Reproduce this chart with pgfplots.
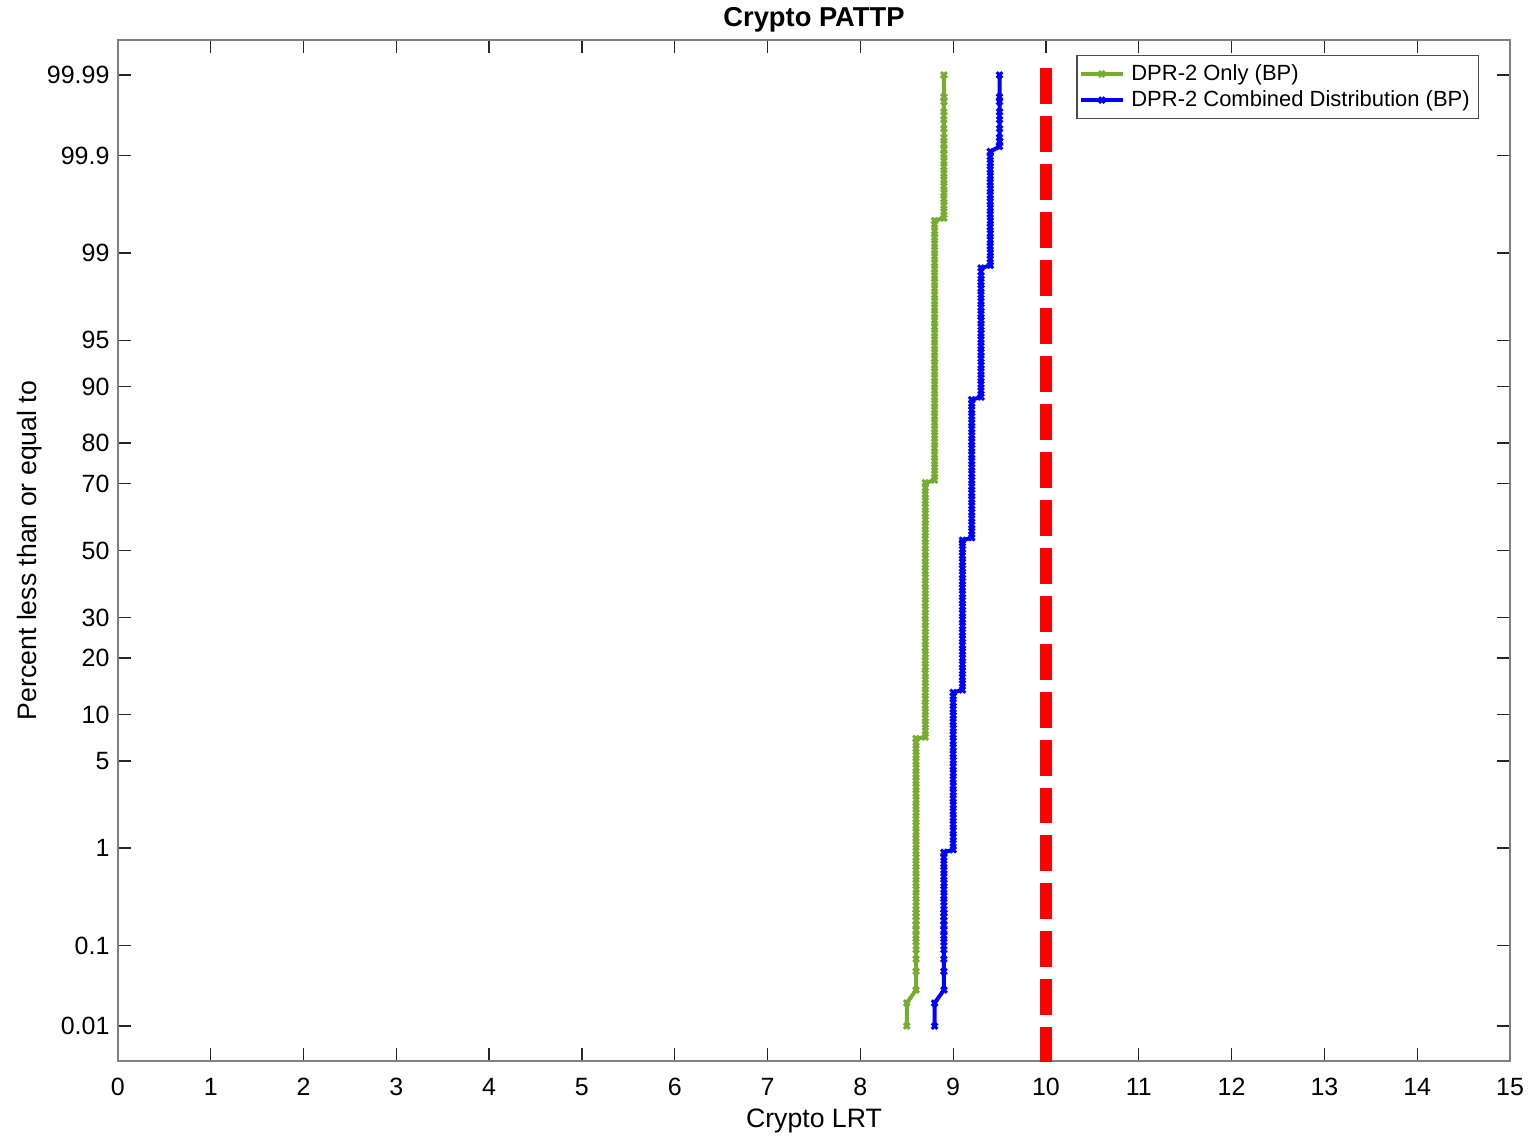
\documentclass[border=0pt]{standalone}
\usepackage{pgfplots}
\pgfplotsset{compat=1.18}
\usepackage{fontspec}
\setmainfont{Liberation Sans}

\definecolor{mgreen}{rgb}{0.466,0.674,0.188}

\begin{document}
\fontsize{7pt}{8.4pt}\selectfont
\begin{tikzpicture}
  \begin{axis}[
    scale only axis,
    width=418pt, height=306.6pt,
    xmin=0, xmax=15,
    ymin=-3.993, ymax=3.993,
    xtick={0,1,...,15},
    ytick={-3.719,-3.090,-2.326,-1.645,-1.2816,-0.8416,-0.5244,0,0.5244,0.8416,1.2816,1.645,2.326,3.090,3.719},
    yticklabels={0.01,0.1,1,5,10,20,30,50,70,80,90,95,99,99.9,99.99},
    /pgf/number format/assume math mode=true,
    tick align=inside,
    major tick length=4pt,
    axis line style={black!50},
    tick style={black!85, line width=0.4pt},
    ticklabel style={font=\fontsize{7.5pt}{9pt}\selectfont},
    xticklabel style={yshift=-2.7pt},
    title={\textbf{Crypto PATTP}},
    title style={font=\fontsize{8.2pt}{9.8pt}\selectfont, yshift=-6.2pt},
    xlabel={Crypto LRT},
    ylabel={Percent less than or equal to},
    label style={font=\fontsize{8pt}{9.6pt}\selectfont},
    xlabel style={yshift=1pt},
    ylabel style={yshift=-3.5pt},
    legend image code/.code={%
      \draw[mark repeat=2, mark phase=2] plot coordinates {(0cm,0cm) (0.22cm,0cm) (0.44cm,0cm)};},
    legend style={at={(1,1)}, anchor=north east, xshift=-9.3pt, yshift=-4.5pt,
      draw=black!70, font=\fontsize{6.6pt}{8pt}\selectfont,
      inner sep=0.6pt, row sep=-2pt},
    legend cell align=left,
  ]
    % DPR-2 Only (BP)
    \addplot[color=mgreen, line width=1.2pt, mark=x, mark size=1.2pt, mark options={solid, line width=0.9pt}]
    coordinates {
      (8.5,-3.719) (8.5,-3.539)
      (8.6,-3.437) (8.6,-3.291) (8.6,-3.195) (8.6,-3.121) (8.6,-3.062) (8.6,-3.011)
      (8.6,-2.968) (8.6,-2.929) (8.6,-2.894) (8.6,-2.863) (8.6,-2.834) (8.6,-2.807)
      (8.6,-2.75) (8.6,-2.70) (8.6,-2.65) (8.6,-2.60) (8.6,-2.55) (8.6,-2.50)
      (8.6,-2.45) (8.6,-2.40) (8.6,-2.35) (8.6,-2.30) (8.6,-2.25) (8.6,-2.20)
      (8.6,-2.15) (8.6,-2.10) (8.6,-2.05) (8.6,-2.00) (8.6,-1.95) (8.6,-1.90)
      (8.6,-1.85) (8.6,-1.80) (8.6,-1.75) (8.6,-1.70) (8.6,-1.65) (8.6,-1.60)
      (8.6,-1.55) (8.6,-1.50) (8.6,-1.47)
      (8.7,-1.46) (8.7,-1.41) (8.7,-1.36) (8.7,-1.31) (8.7,-1.26) (8.7,-1.21)
      (8.7,-1.16) (8.7,-1.11) (8.7,-1.06) (8.7,-1.01) (8.7,-0.96) (8.7,-0.91)
      (8.7,-0.86) (8.7,-0.81) (8.7,-0.76) (8.7,-0.71) (8.7,-0.66) (8.7,-0.61)
      (8.7,-0.56) (8.7,-0.51) (8.7,-0.46) (8.7,-0.41) (8.7,-0.36) (8.7,-0.31)
      (8.7,-0.26) (8.7,-0.21) (8.7,-0.16) (8.7,-0.11) (8.7,-0.06) (8.7,-0.01)
      (8.7,0.04) (8.7,0.09) (8.7,0.14) (8.7,0.19) (8.7,0.24) (8.7,0.29)
      (8.7,0.34) (8.7,0.39) (8.7,0.44) (8.7,0.49) (8.7,0.53)
      (8.8,0.55) (8.8,0.60) (8.8,0.65) (8.8,0.70) (8.8,0.75) (8.8,0.80)
      (8.8,0.85) (8.8,0.90) (8.8,0.95) (8.8,1.00) (8.8,1.05) (8.8,1.10)
      (8.8,1.15) (8.8,1.20) (8.8,1.25) (8.8,1.30) (8.8,1.35) (8.8,1.40)
      (8.8,1.45) (8.8,1.50) (8.8,1.55) (8.8,1.60) (8.8,1.65) (8.8,1.70)
      (8.8,1.75) (8.8,1.80) (8.8,1.85) (8.8,1.90) (8.8,1.95) (8.8,2.00)
      (8.8,2.05) (8.8,2.10) (8.8,2.15) (8.8,2.20) (8.8,2.25) (8.8,2.30)
      (8.8,2.35) (8.8,2.40) (8.8,2.45) (8.8,2.50) (8.8,2.55) (8.8,2.58)
      (8.9,2.60) (8.9,2.65) (8.9,2.70) (8.9,2.75) (8.9,2.80) (8.9,2.85)
      (8.9,2.90) (8.9,2.95) (8.9,3.00) (8.9,3.05) (8.9,3.10) (8.9,3.14)
      (8.9,3.18) (8.9,3.23) (8.9,3.30) (8.9,3.37) (8.9,3.43) (8.9,3.51)
      (8.9,3.547) (8.9,3.719)
    };
    \addlegendentry{DPR-2 Only (BP)}

    % DPR-2 Combined Distribution (BP)
    \addplot[color=blue, line width=1.2pt, mark=x, mark size=1.2pt, mark options={solid, line width=0.9pt}]
    coordinates {
      (8.8,-3.719) (8.8,-3.539)
      (8.9,-3.437) (8.9,-3.291) (8.9,-3.195) (8.9,-3.121) (8.9,-3.062) (8.9,-3.011)
      (8.9,-2.968) (8.9,-2.929) (8.9,-2.894) (8.9,-2.863) (8.9,-2.834) (8.9,-2.807)
      (8.9,-2.75) (8.9,-2.70) (8.9,-2.65) (8.9,-2.60) (8.9,-2.55) (8.9,-2.50)
      (8.9,-2.45) (8.9,-2.40) (8.9,-2.36)
      (9.0,-2.34) (9.0,-2.29) (9.0,-2.24) (9.0,-2.19) (9.0,-2.14) (9.0,-2.09)
      (9.0,-2.04) (9.0,-1.99) (9.0,-1.94) (9.0,-1.89) (9.0,-1.84) (9.0,-1.79)
      (9.0,-1.74) (9.0,-1.69) (9.0,-1.64) (9.0,-1.59) (9.0,-1.54) (9.0,-1.49)
      (9.0,-1.44) (9.0,-1.39) (9.0,-1.34) (9.0,-1.29) (9.0,-1.24) (9.0,-1.19)
      (9.0,-1.14) (9.0,-1.11)
      (9.1,-1.09) (9.1,-1.04) (9.1,-0.99) (9.1,-0.94) (9.1,-0.89) (9.1,-0.84)
      (9.1,-0.79) (9.1,-0.74) (9.1,-0.69) (9.1,-0.64) (9.1,-0.59) (9.1,-0.54)
      (9.1,-0.49) (9.1,-0.44) (9.1,-0.39) (9.1,-0.34) (9.1,-0.29) (9.1,-0.24)
      (9.1,-0.19) (9.1,-0.14) (9.1,-0.09) (9.1,-0.04) (9.1,0.01) (9.1,0.06)
      (9.1,0.08)
      (9.2,0.10) (9.2,0.15) (9.2,0.20) (9.2,0.25) (9.2,0.30) (9.2,0.35)
      (9.2,0.40) (9.2,0.45) (9.2,0.50) (9.2,0.55) (9.2,0.60) (9.2,0.65)
      (9.2,0.70) (9.2,0.75) (9.2,0.80) (9.2,0.85) (9.2,0.90) (9.2,0.95)
      (9.2,1.00) (9.2,1.05) (9.2,1.10) (9.2,1.15) (9.2,1.18)
      (9.3,1.20) (9.3,1.25) (9.3,1.30) (9.3,1.35) (9.3,1.40) (9.3,1.45)
      (9.3,1.50) (9.3,1.55) (9.3,1.60) (9.3,1.65) (9.3,1.70) (9.3,1.75)
      (9.3,1.80) (9.3,1.85) (9.3,1.90) (9.3,1.95) (9.3,2.00) (9.3,2.05)
      (9.3,2.10) (9.3,2.15) (9.3,2.21)
      (9.4,2.23) (9.4,2.28) (9.4,2.33) (9.4,2.38) (9.4,2.43) (9.4,2.48)
      (9.4,2.53) (9.4,2.58) (9.4,2.63) (9.4,2.68) (9.4,2.73) (9.4,2.78)
      (9.4,2.83) (9.4,2.88) (9.4,2.93) (9.4,2.98) (9.4,3.03) (9.4,3.08)
      (9.4,3.12)
      (9.5,3.16) (9.5,3.20) (9.5,3.23) (9.5,3.30) (9.5,3.37) (9.5,3.43)
      (9.5,3.51) (9.5,3.547) (9.5,3.719)
    };
    \addlegendentry{DPR-2 Combined Distribution (BP)}

    % threshold line
    \addplot[color=red, line width=3.6pt, dash pattern=on 10.8pt off 3.6pt, forget plot]
    coordinates {(10,-4.01) (10,3.82)};
  \end{axis}
  \pgfresetboundingbox
  \path ([xshift=-35.4pt,yshift=-23pt]current axis.south west)
    rectangle ([xshift=6.6pt,yshift=12pt]current axis.north east);
\end{tikzpicture}
\end{document}
